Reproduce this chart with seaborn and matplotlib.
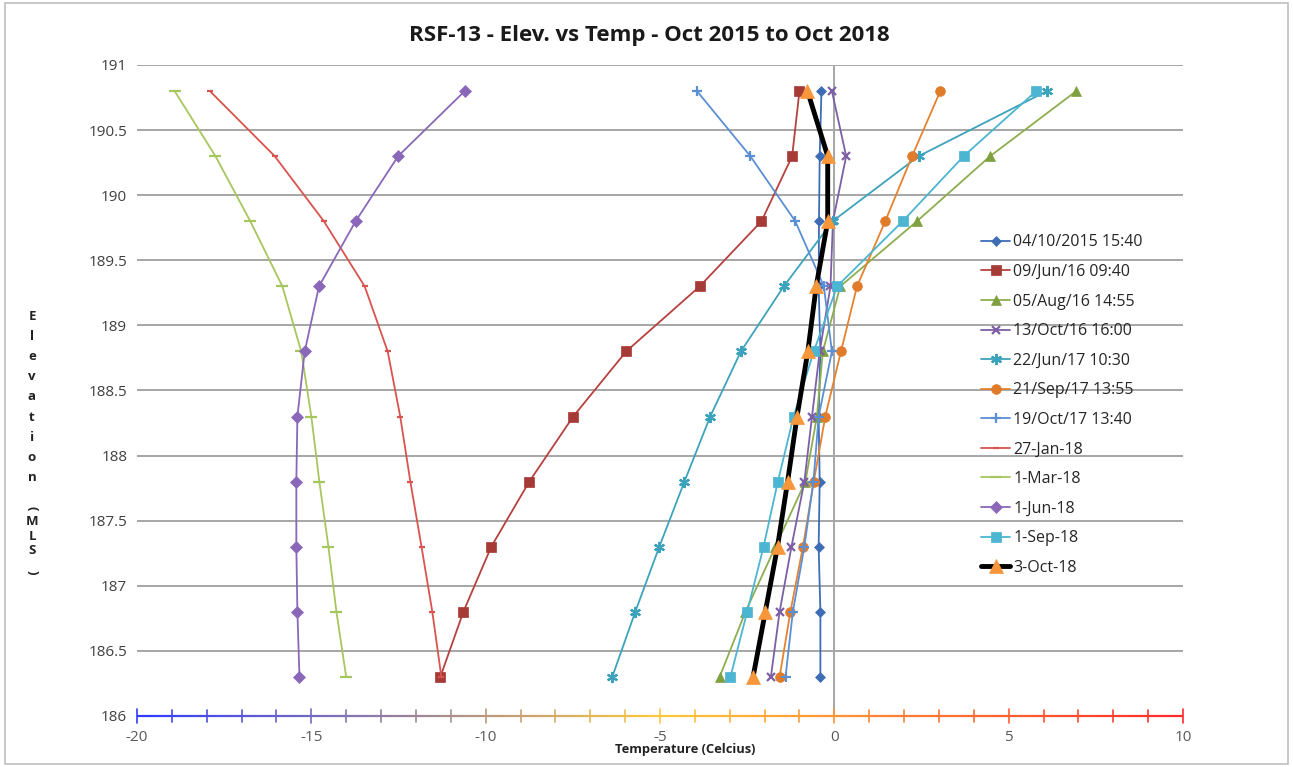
import numpy as np
import pandas as pd
import matplotlib
matplotlib.use("Agg")
import matplotlib.pyplot as plt
import seaborn as sns
from matplotlib.collections import LineCollection
from matplotlib.colors import LinearSegmentedColormap
from matplotlib.patches import Rectangle

# elevation of each sensor (m)
elev = [190.8, 190.3, 189.8, 189.3, 188.8, 188.3, 187.8, 187.3, 186.8, 186.3]

labels = ['04/10/2015 15:40', '09/Jun/16 09:40', '05/Aug/16 14:55', '13/Oct/16 16:00',
          '22/Jun/17 10:30', '21/Sep/17 13:55', '19/Oct/17 13:40', '27-Jan-18',
          '1-Mar-18', '1-Jun-18', '1-Sep-18', '3-Oct-18']

t_oct15 = [-0.37, -0.42, -0.44, -0.45, -0.40, -0.45, -0.42, -0.45, -0.40, -0.40]
t_jun16 = [-1.0, -1.21, -2.09, -3.86, -5.97, -7.49, -8.75, -9.84, -10.64, -11.3]
t_aug16 = [6.94, 4.47, 2.37, 0.17, -0.33, -0.5, -0.83, -1.69, -2.55, -3.29]
t_oct16 = [-0.07, 0.34, -0.04, -0.11, -0.42, -0.64, -0.86, -1.23, -1.57, -1.82]
t_jun17 = [6.1, 2.42, -0.05, -1.45, -2.68, -3.56, -4.3, -5.02, -5.71, -6.37]
t_sep17 = [3.04, 2.23, 1.46, 0.65, 0.19, -0.26, -0.59, -0.9, -1.26, -1.57]
t_oct17 = [-3.94, -2.41, -1.12, -0.3, -0.07, -0.45, -0.6, -0.86, -1.19, -1.4]
t_jan18 = [-17.91, -16.05, -14.64, -13.47, -12.81, -12.45, -12.16, -11.84, -11.53, -11.27]
t_mar18 = [-18.92, -17.75, -16.75, -15.83, -15.29, -15.0, -14.77, -14.51, -14.28, -14.0]
t_jun18 = [-10.6, -12.51, -13.73, -14.78, -15.19, -15.4, -15.43, -15.43, -15.4, -15.34]
t_sep18 = [5.79, 3.71, 1.96, 0.08, -0.59, -1.17, -1.62, -2.03, -2.5, -2.98]
t_oct18 = [-0.77, -0.19, -0.19, -0.52, -0.76, -1.07, -1.34, -1.63, -1.98, -2.33]

temps = [t_oct15, t_jun16, t_aug16, t_oct16, t_jun17, t_sep17,
         t_oct17, t_jan18, t_mar18, t_jun18, t_sep18, t_oct18]

# (line colour, marker colour, marker, marker size, line width)
styles = [
    ('#3E6DB5', '#3E6DB5', 'D', 5, 1.3),
    ('#B6413E', '#A63A37', 's', 7, 1.3),
    ('#8DAE4E', '#7FA040', '^', 7, 1.3),
    ('#7D5FA6', '#7D5FA6', 'x', 6, 1.3),
    ('#3DA3BC', '#3DA3BC', (6, 2, 0), 8, 1.3),
    ('#E6822F', '#E07B2A', 'o', 7, 1.3),
    ('#5A8FD4', '#5A8FD4', '+', 7, 1.3),
    ('#D9534F', '#D9534F', '_', 5, 1.3),
    ('#A6C75E', '#A6C75E', '_', 8, 1.3),
    ('#8A67B8', '#8A67B8', 'D', 6, 1.3),
    ('#4BB5D2', '#4BB5D2', 's', 7, 1.3),
    ('#000000', '#F7963A', '^', 10, 3.5),
]

sns.set_theme(style='white')
plt.rcParams['font.family'] = ['Open Sans', 'DejaVu Sans']

fig = plt.figure(figsize=(12.93, 7.67), dpi=100)
ax = fig.add_axes([137 / 1293, 1 - 716 / 767, 1046 / 1293, 651 / 767])

for lab, t, (lc, mc, mk, ms, lw) in zip(labels, temps, styles):
    df = pd.DataFrame({'temp': t, 'elev': elev})
    thin = mk in ('x', '+', '_') or isinstance(mk, tuple)
    sns.lineplot(data=df, x='temp', y='elev', sort=False, estimator=None, ax=ax,
                 color=lc, lw=lw, marker=mk, markersize=ms, markerfacecolor=mc,
                 markeredgecolor=mc, markeredgewidth=1.6 if thin else 0.5,
                 label=lab, zorder=3)

ax.set_xlim(-20, 10)
ax.set_ylim(186, 191)
yt = np.arange(186, 191.01, 0.5)
ax.set_yticks(yt)
ax.set_yticklabels(['%g' % v for v in yt], fontsize=11, color='#404040')
ax.set_xticks([])
ax.set_xlabel('')
ax.set_ylabel('')
for s in ax.spines.values():
    s.set_visible(False)
ax.tick_params(axis='y', length=0, pad=7)
ax.yaxis.grid(True, color='#A6A6A6', lw=1.4)
ax.set_axisbelow(True)
ax.axvline(0, color='#A6A6A6', lw=1.4, zorder=1)

# gradient x axis (blue -> gold -> red)
cmap = LinearSegmentedColormap.from_list('temp', ['#2F3BFF', '#FFC83C', '#FF2A2A'])
xs = np.linspace(-20, 10, 301)
pts = np.column_stack([xs, np.full_like(xs, 186)])
segs = np.stack([pts[:-1], pts[1:]], axis=1)
axis_line = LineCollection(segs, colors=cmap((xs[:-1] + 20) / 30), lw=1.6,
                           transform=ax.transData, clip_on=False, zorder=4)
ax.add_collection(axis_line)
trans = ax.get_xaxis_transform()
for v in range(-20, 11):
    c = cmap((v + 20) / 30)
    h = 0.009 if v % 5 else 0.011
    ax.plot([v, v], [-h, h], color=c, lw=1.2, transform=trans, clip_on=False, zorder=4)
    if v % 5 == 0:
        ax.text(v, -0.033, str(v), transform=trans, ha='center', va='center',
                fontsize=11, color='#595959')

fig.text(685 / 1293, 1 - 750 / 767, 'Temperature (Celcius)', ha='center', va='center',
         fontsize=9.3, fontweight='bold', color='#222222')
fig.text(649 / 1293, 1 - 35 / 767, 'RSF-13 - Elev. vs Temp - Oct 2015 to Oct 2018', ha='center',
         va='center', fontsize=16, fontweight='bold', color='#1a1a1a')

# stacked y label
fig.text(32 / 1293, 1 - 397 / 767, 'E\nl\ne\nv\na\nt\ni\no\nn', ha='center', va='center',
         fontsize=9.5, fontweight='bold', linespacing=1.72, color='#222222')
fig.text(32 / 1293, 1 - 508 / 767, '(', ha='center', va='center', rotation=-90,
         fontsize=9.5, fontweight='bold', color='#222222')
fig.text(32 / 1293, 1 - 536 / 767, 'M\nL\nS', ha='center', va='center',
         fontsize=9.5, fontweight='bold', linespacing=1.12, color='#222222')
fig.text(32 / 1293, 1 - 572 / 767, ')', ha='center', va='center', rotation=-90,
         fontsize=9.5, fontweight='bold', color='#222222')

ax.legend(loc='upper left', bbox_to_anchor=(967 / 1293, 1 - 220 / 767),
          bbox_transform=fig.transFigure, frameon=False, fontsize=11.5,
          handlelength=1.8, labelspacing=0.85, handletextpad=0.2)

fig.patches.append(Rectangle((0.004, 0.004), 0.992, 0.992, transform=fig.transFigure,
                             fill=False, edgecolor='#BFBFBF', lw=1.2))

fig.savefig('out.png', dpi=100)
